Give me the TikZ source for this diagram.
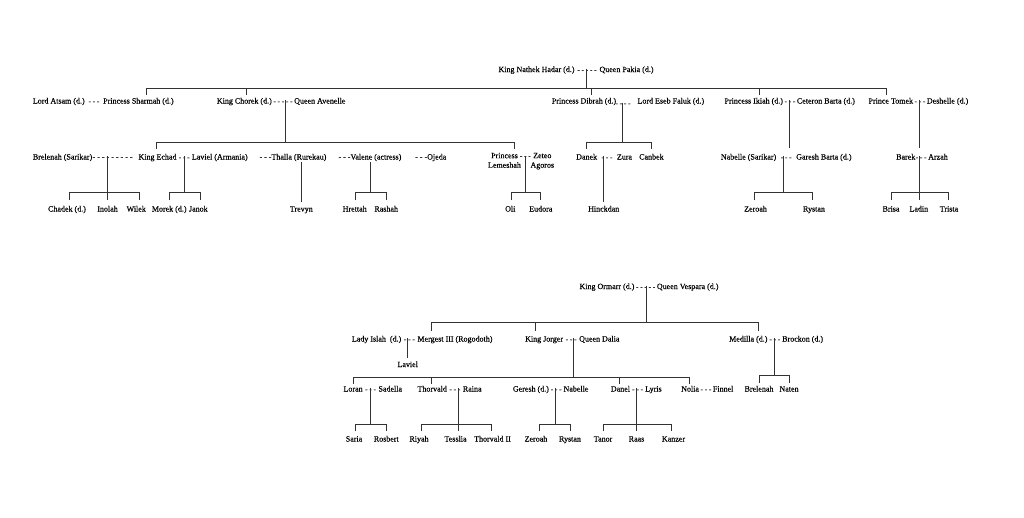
\documentclass[tikz,border=0pt]{standalone}
\usepackage{fontspec}
\setmainfont[FakeBold=0.3]{Liberation Serif}
\usetikzlibrary{calc}
\newcommand\fs{\fontsize{8}{9.5}\selectfont}
\newcommand\fsd{\fontsize{7.2}{8}\selectfont}
\newcommand\dashn[4]{\node[dsh] (#1) at ($(#2.base east)!.5!(#3.base west)$) {#4};}
\begin{document}
\begin{tikzpicture}[x=1pt,y=-1pt,
 t/.style={anchor=base west,inner sep=0pt,font=\fs,text=black},
 c/.style={anchor=base,inner sep=0pt,font=\fs,text=black},
 dsh/.style={anchor=base,inner sep=0pt,font=\fsd,text=black},
 two/.style={anchor=north,inner sep=0pt,font=\fs,align=center,text=black},
 ln/.style={line width=0.65pt,draw=black!80}]
\fill[white] (0,0) rectangle (1024,517);
\useasboundingbox (0,0) rectangle (1024,517);

% ===== Top tree =====
\node[t] (nathek) at (498.3,72) {King Nathek Hadar (d.)};
\node[t] (pakia) at (599.3,72) {Queen Pakia (d.)};
\dashn{dA}{nathek}{pakia}{- - - - -}
\draw[ln] (586.7,68.5) -- (586.7,88);
\draw[ln] (146,95) -- (146,88) -- (886.7,88) -- (886.7,95);
\draw[ln] (246,88) -- (246,95);
\draw[ln] (591.7,88) -- (591.7,95);
\draw[ln] (759,88) -- (759,95);

% row 2
\node[t] (atsam) at (32.7,103.5) {Lord Atsam (d.)};
\node[t] (sharmah) at (103,103.5) {Princess Sharmah (d.)};
\dashn{dB}{atsam}{sharmah}{- - -}
\node[t] (chorek) at (216.7,103.5) {King Chorek (d.)};
\node[t] (avenelle) at (294,103.5) {Queen Avenelle};
\dashn{dC}{chorek}{avenelle}{- - - - -}
\node[t] (dibrah) at (551.7,103.5) {Princess Dibrah (d.)};
\node[t] (eseb) at (637.3,103.5) {Lord Eseb Faluk (d.)};
\node[dsh] (dD) at (623,105.5) {- - - -};
\node[t] (ikiah) at (724.3,103.5) {Princess Ikiah (d.)};
\node[t] (ceteron) at (796.7,103.5) {Ceteron Barta (d.)};
\dashn{dE}{ikiah}{ceteron}{- - -}
\node[t] (tomek) at (868.3,103.5) {Prince Tomek};
\node[t] (deshelle) at (926.7,103.5) {Deshelle (d.)};
\dashn{dF}{tomek}{deshelle}{- - -}

\draw[ln] (285.7,100) -- (285.7,142.5);
\draw[ln] (156.7,149) -- (156.7,142.5) -- (514.3,142.5) -- (514.3,149);
\draw[ln] (622.7,102.5) -- (622.7,142.5);
\draw[ln] (586.7,149) -- (586.7,142.5) -- (651,142.5) -- (651,149);
\draw[ln] (789.5,100) -- (789.5,148);
\draw[ln] (919.5,100) -- (919.5,148);

% row 3
\node[t] (brelenah) at (32.7,159.5) {Brelenah (Sarikar)};
\node[t] (dG) at (brelenah.base east) {- - - - - - - - -};
\node[t] (echad) at (138.3,159.5) {King Echad};
\node[t] (laviel) at (191.7,159.5) {Laviel (Armania)};
\dashn{dH}{echad}{laviel}{- - -}
\node[t] (thalla) at (259.3,159.5) {- - -Thalla (Rurekau)};
\node[t] (valene) at (338.3,159.5) {- - -Valene (actress)};
\node[t] (ojeda) at (415,159.5) {- - -Ojeda};
\node[two] (lemeshah) at (504.5,152.7) {Princess\\Lemeshah};
\node[two] (zeteo) at (542.3,152.7) {Zeteo\\Agoros};
\node[dsh] (dI) at (525.3,158) {- - -};
\node[t] (danek) at (576,159.5) {Danek};
\node[t] (zura) at (616.7,159.5) {Zura};
\dashn{dJ}{danek}{zura}{- - -}
\node[t] (canbek) at (639,159.5) {Canbek};
\node[t] (nabelle) at (720.7,159.5) {Nabelle (Sarikar)};
\node[t] (garesh) at (796,159.5) {Garesh Barta (d.)};
\dashn{dK}{nabelle}{garesh}{- - -}
\node[t] (barek) at (896,159.5) {Barek};
\node[t] (arzah) at (928,159.5) {Arzah};
\node[dsh, anchor=base west] (dL) at (barek.base east) {- - -};

\draw[ln] (107.3,156) -- (107.3,200);
\draw[ln] (69.3,200) -- (69.3,192.5) -- (139,192.5) -- (139,200);
\draw[ln] (184,156) -- (184,192.5);
\draw[ln] (169.3,200) -- (169.3,192.5) -- (200,192.5) -- (200,200);
\draw[ln] (301,162) -- (301,202);
\draw[ln] (370.7,162) -- (370.7,192.5);
\draw[ln] (355.7,200) -- (355.7,192.5) -- (386,192.5) -- (386,200);
\draw[ln] (525.3,156) -- (525.3,192.5);
\draw[ln] (511,200) -- (511,192.5) -- (540.5,192.5) -- (540.5,200);
\draw[ln] (603.3,156) -- (603.3,202);
\draw[ln] (783,156) -- (783,192.5);
\draw[ln] (754.3,200) -- (754.3,192.5) -- (812.3,192.5) -- (812.3,200);
\draw[ln] (919.5,156) -- (919.5,200);
\draw[ln] (891,200) -- (891,192.5) -- (948.3,192.5) -- (948.3,200);

% row 4
\node[c] (chadek) at (67,211.5) {Chadek (d.)};
\node[c] (inolah) at (107.5,211.5) {Inolah};
\node[c] (wilek) at (136.2,211.5) {Wilek};
\node[c] (morek) at (169.2,211.5) {Morek (d.)};
\node[c] (janok) at (198.3,211.5) {Janok};
\node[c] (trevyn) at (301.3,211.5) {Trevyn};
\node[c] (hrettah) at (354.7,211.5) {Hrettah};
\node[c] (rashah) at (386.2,211.5) {Rashah};
\node[c] (oli) at (510.3,211.5) {Oli};
\node[c] (eudora) at (540.8,211.5) {Eudora};
\node[c] (hinckdan) at (603.7,211.5) {Hinckdan};
\node[c] (zeroah) at (755.5,211.5) {Zeroah};
\node[c] (rystan) at (814,211.5) {Rystan};
\node[c] (brisa) at (891,211.5) {Brisa};
\node[c] (ladin) at (918.8,211.5) {Ladin};
\node[c] (trista) at (949,211.5) {Trista};

% ===== Bottom tree =====
\node[t] (ormarr) at (579.3,289) {King Ormarr (d.)};
\node[t] (vespara) at (656.7,289) {Queen Vespara (d.)};
\dashn{dM}{ormarr}{vespara}{- - - - -}
\draw[ln] (646,285.5) -- (646,322);
\draw[ln] (431.7,331) -- (431.7,322) -- (758.3,322) -- (758.3,331);
\draw[ln] (535,322) -- (535,331);

\node[t] (islah) at (351.7,341.5) {Lady Islah\enspace(d.)};
\node[t] (mergest) at (417.3,341.5) {Mergest III (Rogodoth)};
\dashn{dN}{islah}{mergest}{- - -}
\node[t] (jorger) at (525,341.5) {King Jorger};
\node[t] (dalia) at (579,341.5) {Queen Dalia};
\dashn{dO}{jorger}{dalia}{- - -}
\node[t] (medilla) at (729,341.5) {Medilla (d.)};
\node[t] (brockon) at (782,341.5) {Brockon (d.)};
\dashn{dP}{medilla}{brockon}{- - -}
\node[c] (laviel2) at (407.7,367) {Laviel};

\draw[ln] (407.7,338) -- (407.7,358);
\draw[ln] (573.3,338) -- (573.3,377);
\draw[ln] (353.3,383.5) -- (353.3,377) -- (689.3,377) -- (689.3,383.5);
\draw[ln] (431.7,377) -- (431.7,383.5);
\draw[ln] (619.3,377) -- (619.3,383.5);
\draw[ln] (774,338) -- (774,375);
\draw[ln] (759.3,383) -- (759.3,375) -- (789.3,375) -- (789.3,383);

\node[t] (loran) at (343.3,391.5) {Loran};
\node[t] (sadella) at (378.3,391.5) {Sadella};
\dashn{dQ}{loran}{sadella}{- - -}
\node[t] (thorvald) at (417.3,391.5) {Thorvald};
\node[t] (raina) at (462.7,391.5) {Raina};
\dashn{dR}{thorvald}{raina}{- - -}
\node[t] (geresh) at (512.7,391.5) {Geresh (d.)};
\node[t] (nabelle2) at (563.3,391.5) {Nabelle};
\dashn{dS}{geresh}{nabelle2}{- - -}
\node[t] (danel) at (610.7,391.5) {Danel};
\node[t] (lyris) at (645,391.5) {Lyris};
\dashn{dT}{danel}{lyris}{- - -}
\node[t] (nolia) at (681,391.5) {Nolia};
\node[t] (finnel) at (712.7,391.5) {Finnel};
\dashn{dU}{nolia}{finnel}{- - -}
\node[c] (brelenah2) at (759,391.5) {Brelenah};
\node[c] (naten) at (789,391.5) {Naten};

\draw[ln] (370,388) -- (370,424);
\draw[ln] (355,431) -- (355,424) -- (386,424) -- (386,431);
\draw[ln] (458.3,388) -- (458.3,431);
\draw[ln] (421.7,431) -- (421.7,424) -- (491.7,424) -- (491.7,431);
\draw[ln] (555,388) -- (555,424);
\draw[ln] (539,431) -- (539,424) -- (570,424) -- (570,431);
\draw[ln] (636,388) -- (636,431);
\draw[ln] (603.3,431) -- (603.3,424) -- (671.7,424) -- (671.7,431);

\node[c] (saria) at (354,441.5) {Saria};
\node[c] (rosbert) at (386.3,441.5) {Rosbert};
\node[c] (riyah) at (419,441.5) {Riyah};
\node[c] (tesslia) at (455.5,441.5) {Tesslia};
\node[c] (thorvald2) at (492.5,441.5) {Thorvald II};
\node[c] (zeroah2) at (536,441.5) {Zeroah};
\node[c] (rystan2) at (570,441.5) {Rystan};
\node[c] (tanor) at (603,441.5) {Tanor};
\node[c] (raas) at (636.5,441.5) {Raas};
\node[c] (kanzer) at (673.5,441.5) {Kanzer};
\end{tikzpicture}
\end{document}
